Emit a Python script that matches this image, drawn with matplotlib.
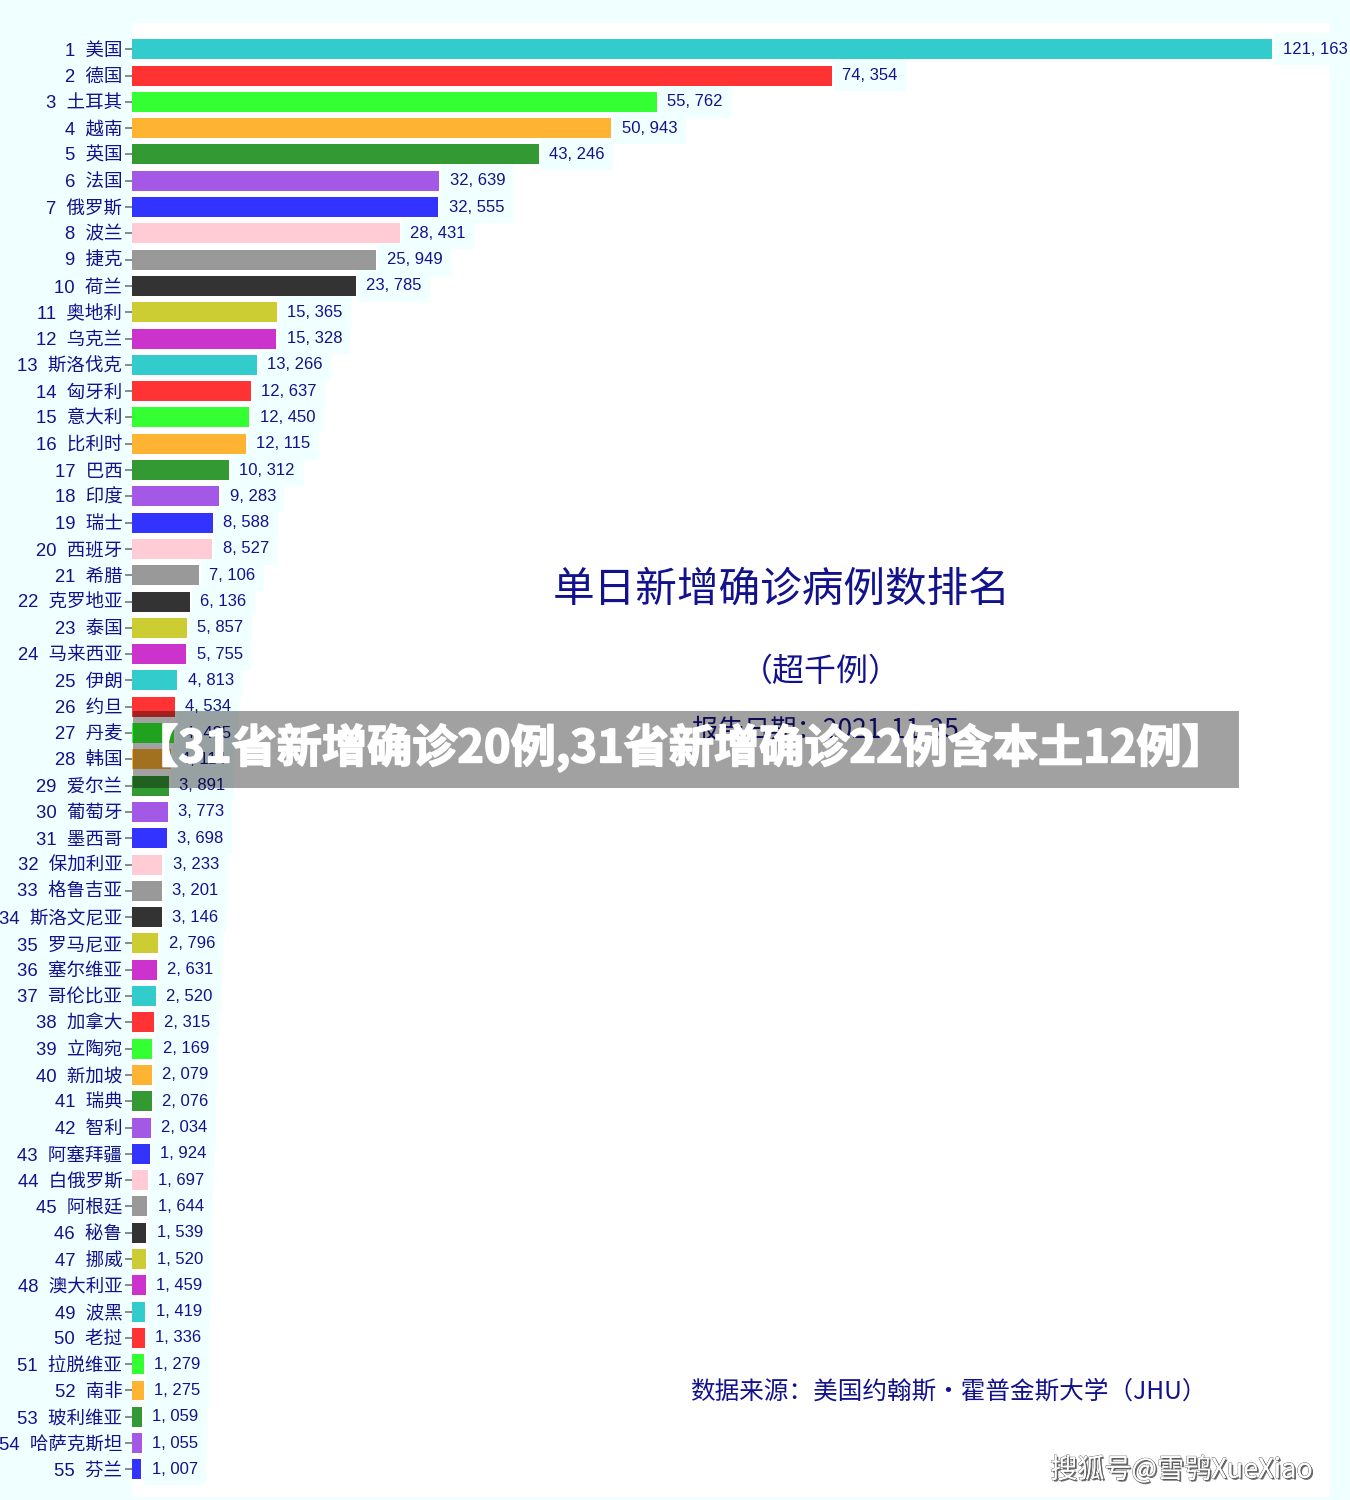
import matplotlib
matplotlib.use("Agg")
import matplotlib.pyplot as plt
import matplotlib.patheffects as pe

plt.rcParams['font.family'] = ['Liberation Sans', 'Noto Sans CJK SC', 'DejaVu Sans']

countries = ["美国", "德国", "土耳其", "越南", "英国", "法国", "俄罗斯", "波兰", "捷克", "荷兰",
             "奥地利", "乌克兰", "斯洛伐克", "匈牙利", "意大利", "比利时", "巴西", "印度", "瑞士", "西班牙",
             "希腊", "克罗地亚", "泰国", "马来西亚", "伊朗", "约旦", "丹麦", "韩国", "爱尔兰", "葡萄牙",
             "墨西哥", "保加利亚", "格鲁吉亚", "斯洛文尼亚", "罗马尼亚", "塞尔维亚", "哥伦比亚", "加拿大", "立陶宛", "新加坡",
             "瑞典", "智利", "阿塞拜疆", "白俄罗斯", "阿根廷", "秘鲁", "挪威", "澳大利亚", "波黑", "老挝",
             "拉脱维亚", "南非", "玻利维亚", "哈萨克斯坦", "芬兰"]
values = [121163, 74354, 55762, 50943, 43246, 32639, 32555, 28431, 25949, 23785,
          15365, 15328, 13266, 12637, 12450, 12115, 10312, 9283, 8588, 8527,
          7106, 6136, 5857, 5755, 4813, 4534, 4485, 4114, 3891, 3773,
          3698, 3233, 3201, 3146, 2796, 2631, 2520, 2315, 2169, 2079,
          2076, 2034, 1924, 1697, 1644, 1539, 1520, 1459, 1419, 1336,
          1279, 1275, 1059, 1055, 1007]
palette = ["#33CCCC", "#FF3333", "#33FF33", "#FFB333", "#339933", "#A359E6",
           "#3333FF", "#FFCCD5", "#999999", "#333333", "#CCCC33", "#CC33CC"]

title = "单日新增确诊病例数排名"
subtitle = "（超千例）"
date_text = "报告日期：2021-11-25"
source_text = "数据来源：美国约翰斯・霍普金斯大学（JHU）"
banner_text = "【31省新增确诊20例,31省新增确诊22例含本土12例】"
watermark = "搜狐号@雪鸮XueXiao"

W, H = 1350, 1500
fig = plt.figure(figsize=(W / 100, H / 100), dpi=100, facecolor="#F0FFFF")
ax = fig.add_axes([132 / W, 1 - 1497 / H, (1330 - 132) / W, (1497 - 23) / H])
ax.set_facecolor("white")

navy = "#12128C"
n = len(values)
ypos = list(range(n))
colors = [palette[i % len(palette)] for i in range(n)]
ax.barh(ypos, values, height=0.76, color=colors, edgecolor="none")
ax.set_ylim(n + 0.05, -1)
ax.set_xlim(0, 127300)

ax.set_yticks(ypos)
ax.set_yticklabels([f"{i + 1}  {c}" for i, c in enumerate(countries)], fontsize=13.3, color=navy)
ax.tick_params(axis="y", length=5, width=1.2, color="#777777", pad=2)
ax.xaxis.set_visible(False)
for s in ax.spines.values():
    s.set_visible(False)

for y, v in zip(ypos, values):
    ax.text(v + 1100, y, f"{v:,}".replace(",", ", "), va="center", ha="left",
            fontsize=12, color=navy,
            bbox=dict(boxstyle="square,pad=0.5", facecolor="#F0FFFF", edgecolor="none"))

fig.text(782 / W, 1 - 590 / H, title, ha="center", va="center", fontsize=30,
         color=navy, family=["Noto Sans CJK SC"])
fig.text(821 / W, 1 - 672 / H, subtitle, ha="center", va="center", fontsize=23,
         color=navy, family=["Noto Sans CJK SC"])
fig.text(825 / W, 1 - 730 / H, date_text, ha="center", va="center", fontsize=19,
         color=navy, family=["Noto Sans CJK SC"])
fig.text(690 / W, 1 - 1392 / H, source_text, ha="left", va="center", fontsize=17.7,
         color=navy, family=["Noto Sans CJK SC"])

# banner overlay
banner = plt.Rectangle((133 / W, 1 - 788 / H), (1239 - 133) / W, (788 - 711) / H,
                       transform=fig.transFigure, facecolor="black", alpha=0.37,
                       edgecolor="none", zorder=10)
fig.patches.append(banner)
fig.text(680 / W, 1 - 748 / H, banner_text, ha="center", va="center", fontsize=32.5,
         color="white", fontweight="heavy", family=["Noto Sans CJK SC"], zorder=11,
         path_effects=[pe.withStroke(linewidth=1.2, foreground="white")])

fig.text(1313 / W, 1 - 1470 / H, watermark, ha="right", va="center", fontsize=19.5,
         color="white", family=["Noto Sans CJK SC"], zorder=11,
         path_effects=[pe.withStroke(linewidth=0.8, foreground="#666666"),
                       pe.SimplePatchShadow(offset=(1.2, -1.2), shadow_rgbFace="#444444", alpha=0.8),
                       pe.Normal()])

fig.savefig("out.png", dpi=100, facecolor=fig.get_facecolor())
